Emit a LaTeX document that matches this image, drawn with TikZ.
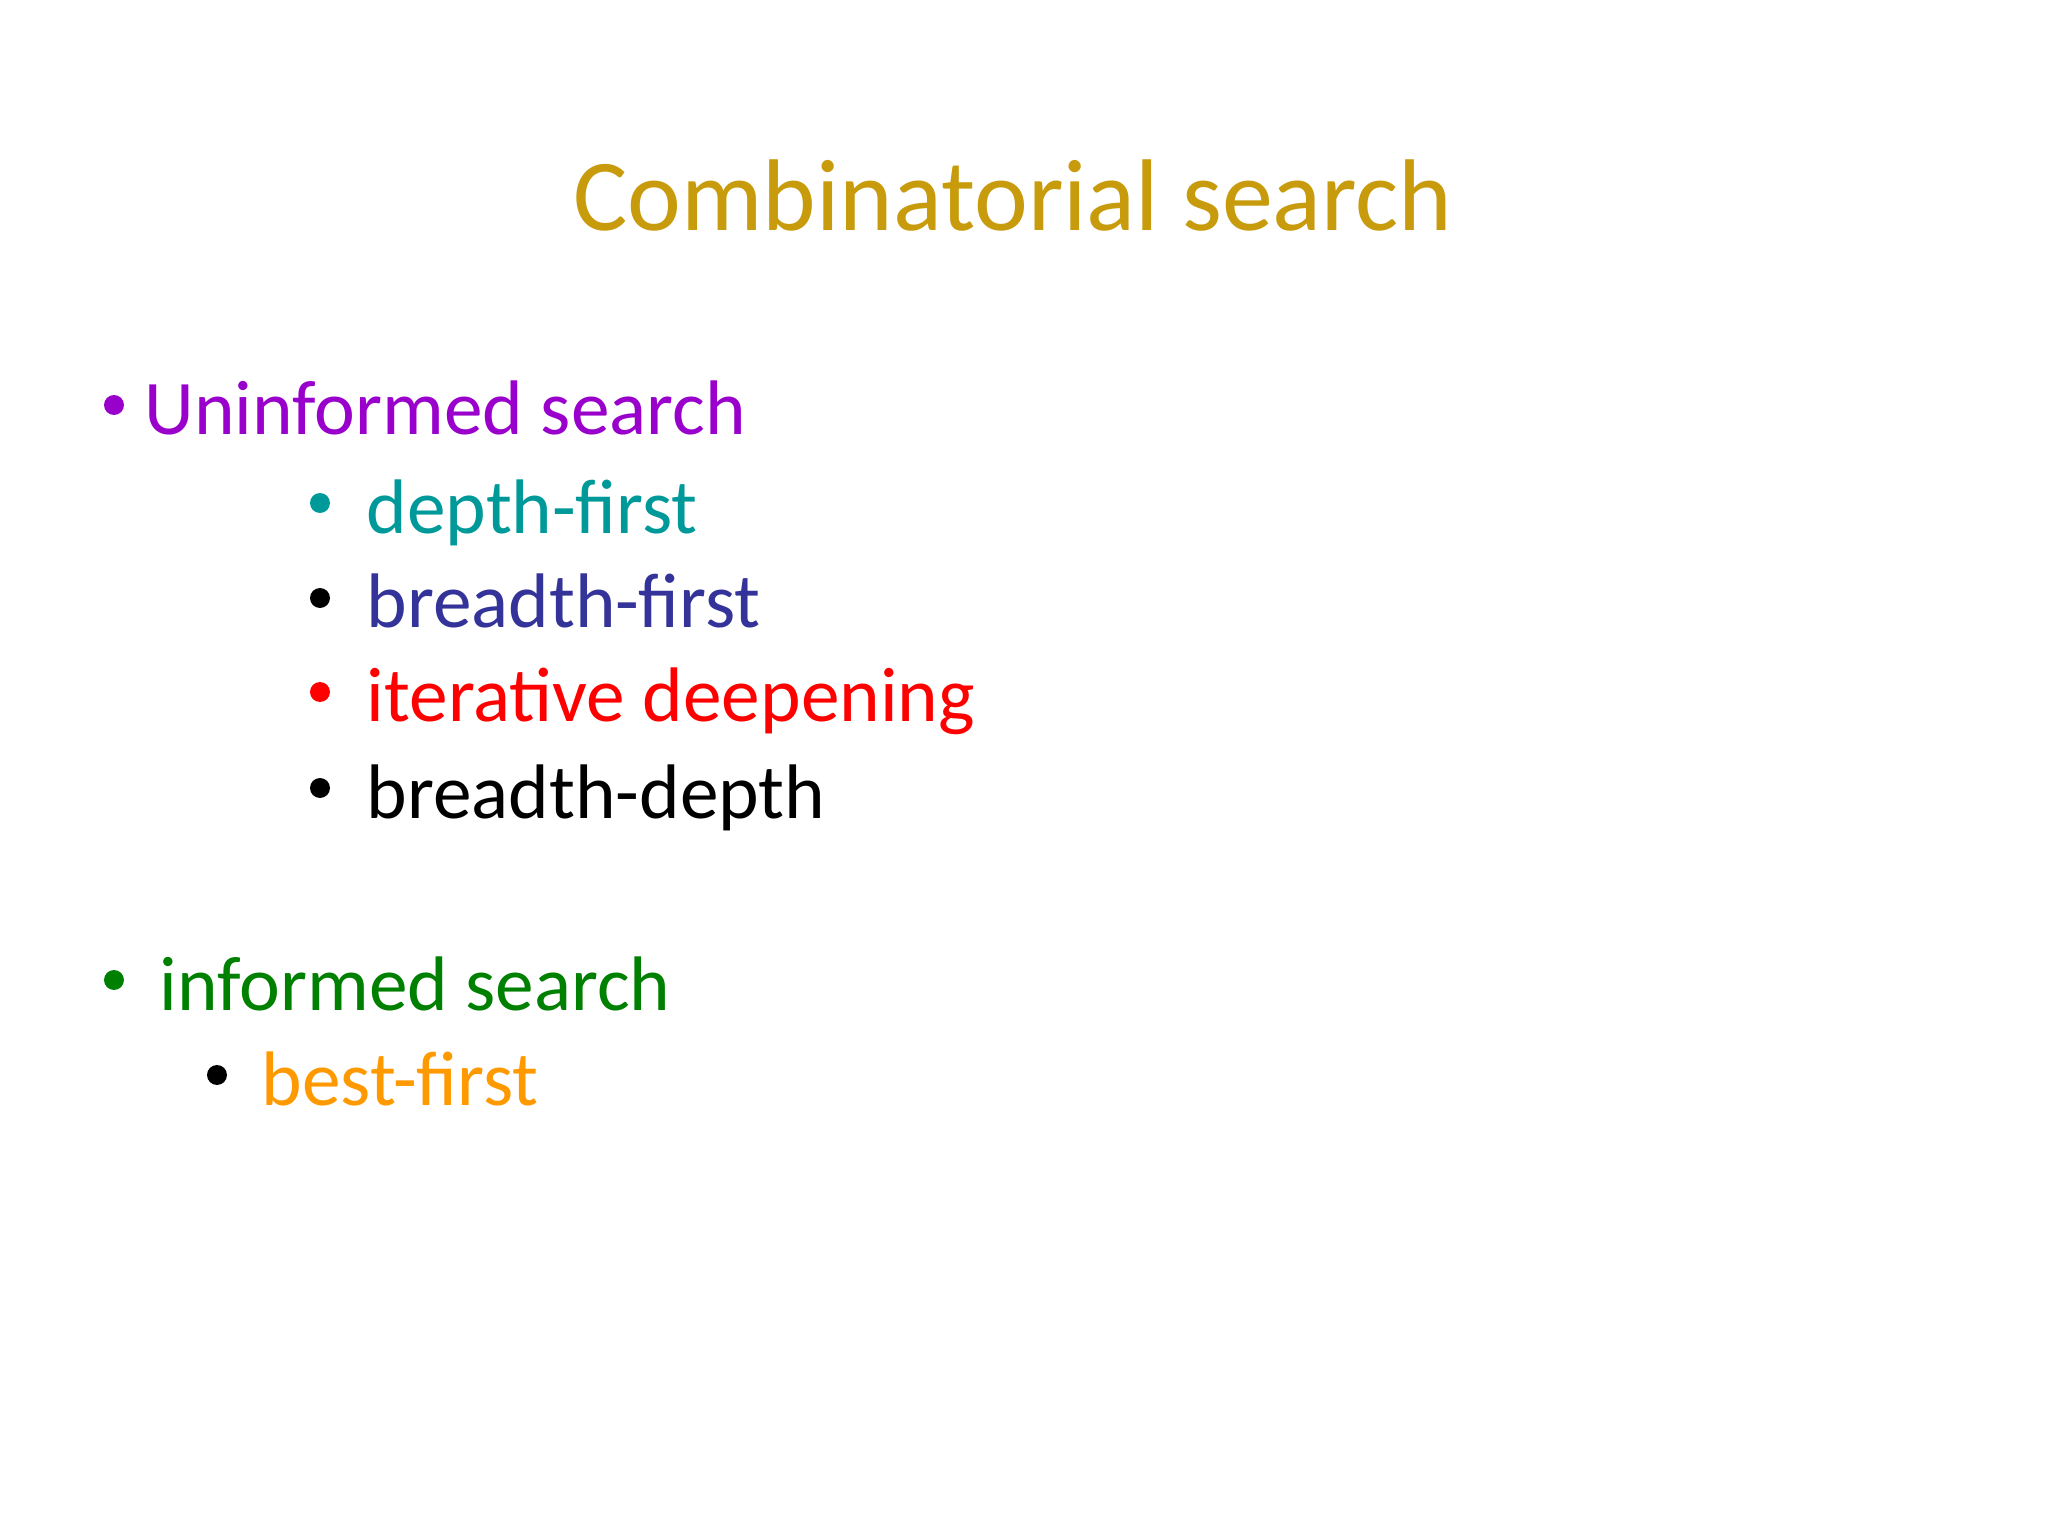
\documentclass[tikz,border=0pt]{standalone}
\usepackage{fontspec}
\setmainfont{Carlito}
\definecolor{titc}{HTML}{C89B0C}
\definecolor{purp}{HTML}{9900CC}
\definecolor{teal2}{HTML}{009999}
\definecolor{navy2}{HTML}{333399}
\definecolor{grn}{HTML}{008000}
\definecolor{orng}{HTML}{FF9900}
\begin{document}
\begin{tikzpicture}[x=1cm,y=1cm,
  txt/.style={anchor=base west,inner sep=0pt,font=\fontsize{22}{26}\selectfont},
  bul/.style={circle,fill,inner sep=0pt,minimum size=0.2cm}]
\useasboundingbox (0,0) rectangle (20.48,-15.36);
\node[anchor=base,inner sep=0pt,text=titc,font=\fontsize{29}{34}\selectfont] (title) at (10.13,-2.31) {Combinatorial search};
\node[bul,purp] (b1) at (1.14,-4.05) {};
\node[txt,text=purp] (t1) at (1.44,-4.35) {Uninformed search};
\node[bul,teal2] (b2) at (3.20,-5.03) {};
\node[txt,text=teal2] (t2) at (3.66,-5.33) {depth-first};
\node[bul,black] (b3) at (3.20,-5.98) {};
\node[txt,text=navy2] (t3) at (3.66,-6.28) {breadth-first};
\node[bul,red] (b4) at (3.20,-6.92) {};
\node[txt,text=red] (t4) at (3.66,-7.22) {iterative deepening};
\node[bul,black] (b5) at (3.20,-7.88) {};
\node[txt,text=black] (t5) at (3.66,-8.18) {breadth-depth};
\node[bul,grn] (b6) at (1.14,-9.80) {};
\node[txt,text=grn] (t6) at (1.59,-10.10) {informed search};
\node[bul,black] (b7) at (2.17,-10.75) {};
\node[txt,text=orng] (t7) at (2.61,-11.05) {best-first};
\end{tikzpicture}
\end{document}
